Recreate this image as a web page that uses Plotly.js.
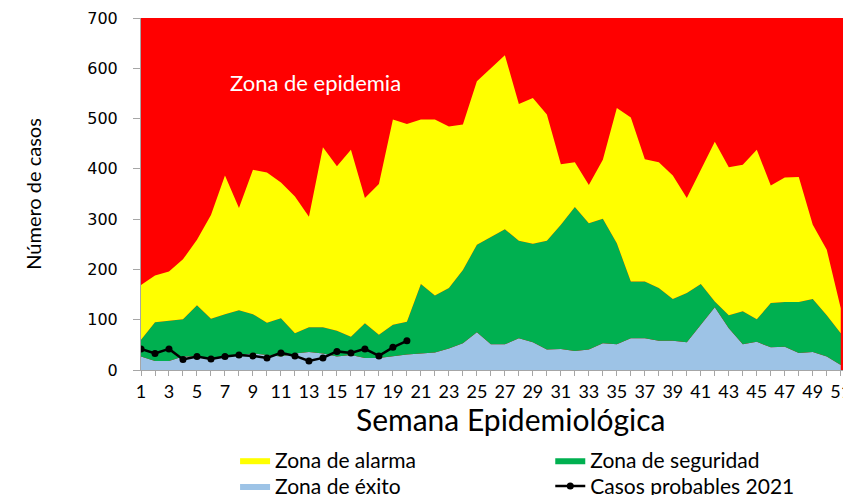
<!DOCTYPE html>
<html>
<head>
<meta charset="utf-8">
<script src="https://cdn.plot.ly/plotly-3.0.1.min.js"></script>
<style>
  body { margin: 0; background: #fff; }
  #myPlot { width: 843px; height: 495px; }
</style>
</head>
<body>
<div id="myPlot"></div>
<script>
// semanas epidemiologicas del canal endemico
const semanas = [1,2,3,4,5,6,7,8,9,10,11,12,13,14,15,16,17,18,19,20,21,22,23,24,25,26,
                 27,28,29,30,31,32,33,34,35,36,37,38,39,40,41,42,43,44,45,46,47,48,49,50,51];

// limite superior de cada zona (numero de casos)
const exito = [27,18,18,27,27,24,27,30,33,30,27,33,36,33,27,30,24,24,28,31,
               33,35,43,53,75,51,51,63,55,41,42,38,41,53,51,63,63,58,58,55,
               90,125,83,51,56,45,46,34,36,27,10];
const seguridad = [60,95,98,101,129,102,111,119,111,94,103,73,85,85,78,66,93,70,90,96,
                   171,148,163,199,249,265,280,257,251,257,289,324,292,301,252,176,176,163,141,153,
                   171,136,109,117,101,133,135,135,141,109,73];
const alarma = [169,188,196,220,259,308,387,322,398,393,373,345,305,443,405,438,342,370,498,489,
                498,498,484,488,574,600,626,529,541,508,409,413,368,418,521,502,419,413,387,342,
                398,454,403,408,438,367,383,384,289,239,123];

// casos probables 2021
const semanas2021 = [1,2,3,4,5,6,7,8,9,10,11,12,13,14,15,16,17,18,19,20];
const casos2021 = [42,33,42,21,27,22,27,30,28,24,34,28,18,24,37,34,42,28,45,58];

const gris = "#a6a6a6";
const letra = "Lato, 'Open Sans', sans-serif";

const data = [
  {
    x: semanas, y: exito, name: "Zona de éxito",
    mode: "lines", fill: "tozeroy", fillcolor: "#9DC3E6",
    line: {width: 0}, legend: "legend3"
  },
  {
    x: semanas, y: seguridad, name: "Zona de seguridad",
    mode: "lines", fill: "tonexty", fillcolor: "#00B050",
    line: {width: 0}, legend: "legend2"
  },
  {
    x: semanas, y: alarma, name: "Zona de alarma",
    mode: "lines", fill: "tonexty", fillcolor: "#FFFF00",
    line: {width: 0}, legend: "legend"
  },
  {
    x: semanas2021, y: casos2021, name: "Casos probables 2021",
    mode: "lines+markers",
    line: {color: "#000000", width: 2.5},
    marker: {color: "#000000", size: 7},
    legend: "legend4"
  }
];

// una leyenda por entrada para dejar la rejilla de 2x2 del original
function leyenda(x, y) {
  return {
    x: x, y: y, xanchor: "left", yanchor: "top",
    itemwidth: 30,
    maxheight: 200,
    bgcolor: "rgba(0,0,0,0)",
    font: {family: letra, size: 21, color: "#000"}
  };
}

const layout = {
  width: 843,
  height: 495,
  margin: {l: 141, r: 0, t: 18, b: 125, autoexpand: false},
  paper_bgcolor: "#ffffff",
  plot_bgcolor: "#FF0000",
  showlegend: true,
  xaxis: {
    range: [1, 51.16],
    tick0: 1, dtick: 2,
    ticks: "outside", ticklen: 5, tickcolor: gris,
    minor: {dtick: 1, ticks: "outside", ticklen: 5, tickcolor: gris, showgrid: false},
    showline: true, linecolor: gris, linewidth: 1,
    showgrid: false, zeroline: false,
    ticklabeloverflow: "allow",
    tickfont: {family: letra, size: 18, color: "#000"}
  },
  yaxis: {
    range: [0, 700], dtick: 100,
    ticks: "outside", ticklen: 7, tickcolor: gris,
    showline: true, linecolor: gris, linewidth: 1,
    showgrid: false, zeroline: false,
    ticklabelstandoff: 12,
    tickfont: {family: "'DejaVu Sans', Verdana, sans-serif", size: 16, color: "#000"},
    title: {text: "Número de casos", standoff: 40,
            font: {family: letra, size: 20, color: "#000"}}
  },
  legend: leyenda(0.134, -0.199),
  legend2: leyenda(0.583, -0.199),
  legend3: leyenda(0.134, -0.272),
  legend4: leyenda(0.583, -0.272),
  annotations: [
    {
      text: "Zona de epidemia", x: 13.45, y: 571, xref: "x", yref: "y",
      showarrow: false, font: {family: letra, size: 22, color: "#ffffff"}
    },
    {
      text: "Semana Epidemiológica", x: 0.527, y: -0.139, xref: "paper", yref: "paper",
      xanchor: "center", yanchor: "middle",
      showarrow: false, font: {family: letra, size: 30, color: "#000"}
    }
  ]
};

Plotly.newPlot("myPlot", data, layout, {displayModeBar: false, staticPlot: true});
</script>
</body>
</html>
